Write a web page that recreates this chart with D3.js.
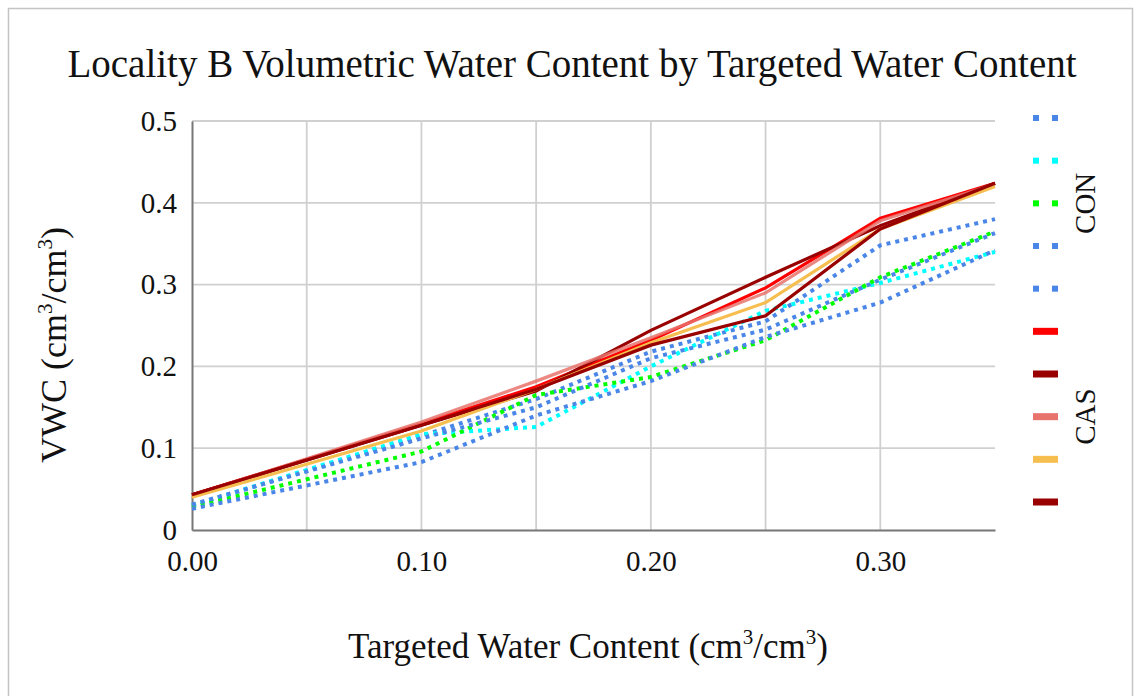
<!DOCTYPE html>
<html>
<head>
<meta charset="utf-8">
<script src="https://cdn.jsdelivr.net/npm/d3@7"></script>
<style>
  html, body { margin: 0; padding: 0; background: #fff; }
  svg { display: block; }
  text { font-family: "Liberation Serif", "DejaVu Serif", serif; fill: #111; }
</style>
</head>
<body>
<svg id="chart" width="1143" height="696"></svg>
<script>
// ---- data ----
const targeted = [0.00, 0.10, 0.15, 0.20, 0.25, 0.30, 0.35];

const seriesNames = ["CON 1", "CON 2", "CON 3", "CON 4", "CON 5", "CAS 1", "CAS 2", "CAS 3", "CAS 4", "CAS 5"];
const seriesGroups = ["CON", "CON", "CON", "CON", "CON", "CAS", "CAS", "CAS", "CAS", "CAS"];
const seriesColors = ["#4a86e8", "#00ffff", "#00ff00", "#4a86e8", "#4a86e8", "#ff0000", "#990000", "#e8736c", "#f6bd4f", "#990000"];

const con1 = [0.030, 0.115, 0.160, 0.218, 0.255, 0.348, 0.380];
const con2 = [0.030, 0.117, 0.126, 0.200, 0.268, 0.302, 0.340];
const con3 = [0.028, 0.096, 0.165, 0.187, 0.232, 0.309, 0.365];
const con4 = [0.031, 0.112, 0.150, 0.210, 0.245, 0.306, 0.363];
const con5 = [0.026, 0.083, 0.140, 0.182, 0.236, 0.278, 0.342];
const cas1 = [0.043, 0.130, 0.175, 0.232, 0.296, 0.381, 0.424];
const cas2 = [0.043, 0.128, 0.170, 0.244, 0.309, 0.372, 0.424];
const cas3 = [0.042, 0.132, 0.182, 0.235, 0.290, 0.378, 0.423];
const cas4 = [0.040, 0.121, 0.172, 0.229, 0.278, 0.368, 0.420];
const cas5 = [0.043, 0.128, 0.172, 0.226, 0.262, 0.368, 0.424];
const seriesValues = [con1, con2, con3, con4, con5, cas1, cas2, cas3, cas4, cas5];

const xTicks = [0.00, 0.10, 0.20, 0.30];
const xGrid = [0.05, 0.10, 0.15, 0.20, 0.25, 0.30];
const yTicks = [0, 0.1, 0.2, 0.3, 0.4, 0.5];

const titleText = "Locality B Volumetric Water Content by Targeted Water Content";

// ---- layout ----
const svg = d3.select("#chart");
const plot = { left: 192, right: 995, top: 121, bottom: 530 };

svg.append("rect").attr("x", 8.5).attr("y", 8.5).attr("width", 1124).attr("height", 700)
  .attr("fill", "#fff").attr("stroke", "#c4c4c4").attr("stroke-width", 1.5);

const x = d3.scaleLinear().domain([0, 0.35]).range([plot.left, plot.right]);
const y = d3.scaleLinear().domain([0, 0.5]).range([plot.bottom, plot.top]);

// grid
const grid = svg.append("g");
grid.selectAll("line.h").data(yTicks.filter(d => d > 0)).join("line")
  .attr("x1", plot.left).attr("x2", plot.right)
  .attr("y1", d => y(d)).attr("y2", d => y(d))
  .attr("stroke", "#d0d0d0").attr("stroke-width", 1.8);
grid.selectAll("line.v").data(xGrid).join("line")
  .attr("x1", d => x(d)).attr("x2", d => x(d))
  .attr("y1", plot.top).attr("y2", plot.bottom)
  .attr("stroke", "#d0d0d0").attr("stroke-width", 1.8);

// axes
const yAxis = svg.append("g").attr("transform", `translate(${plot.left},0)`)
  .call(d3.axisLeft(y).tickValues(yTicks).tickSize(0).tickPadding(15)
    .tickFormat(d => d === 0 ? "0" : d3.format(".1f")(d)));
yAxis.select(".domain").attr("stroke", "#777").attr("stroke-width", 2);
yAxis.selectAll("text").attr("font-size", 29).attr("fill", "#111")
  .style("font-family", '"Liberation Serif", serif');

const xAxis = svg.append("g").attr("transform", `translate(0,${plot.bottom})`)
  .call(d3.axisBottom(x).tickValues(xTicks).tickSize(0).tickPadding(20)
    .tickFormat(d3.format(".2f")));
xAxis.select(".domain").attr("stroke", "#777").attr("stroke-width", 2);
xAxis.selectAll("text").attr("font-size", 29).attr("fill", "#111")
  .style("font-family", '"Liberation Serif", serif');

// lines
const line = d3.line().x((d, i) => x(targeted[i])).y(d => y(d));
const lineG = svg.append("g");
seriesValues.forEach((vals, i) => {
  const isCon = seriesGroups[i] === "CON";
  lineG.append("path")
    .attr("d", line(vals))
    .attr("fill", "none")
    .attr("stroke", seriesColors[i])
    .attr("stroke-width", isCon ? 4 : 3.2)
    .attr("stroke-dasharray", isCon ? "4,5" : null)
    .attr("stroke-linejoin", "miter")
    .attr("opacity", i === 7 ? 0.85 : 1);
});

// legend
const legY = d3.scalePoint().domain(seriesNames).range([118, 502]);
const leg = svg.append("g");
seriesNames.forEach((n, i) => {
  const yy = legY(n);
  if (seriesGroups[i] === "CON") {
    leg.append("rect").attr("x", 1033).attr("y", yy - 3).attr("width", 6).attr("height", 6).attr("fill", seriesColors[i]);
    leg.append("rect").attr("x", 1052).attr("y", yy - 3).attr("width", 6).attr("height", 6).attr("fill", seriesColors[i]);
  } else {
    leg.append("rect").attr("x", 1033).attr("y", yy - 3.5).attr("width", 25).attr("height", 7).attr("fill", seriesColors[i]);
  }
});
const groupLabels = ["CON", "CAS"];
groupLabels.forEach(g => {
  const idx = seriesGroups.map((s, i) => s === g ? i : -1).filter(i => i >= 0);
  const cy = (legY(seriesNames[idx[0]]) + legY(seriesNames[idx[idx.length - 1]])) / 2;
  svg.append("text").attr("transform", `translate(1095,${cy}) rotate(-90)`)
    .attr("text-anchor", "middle").attr("font-size", 29).text(g);
});

// title
svg.append("text").attr("x", 572).attr("y", 77).attr("text-anchor", "middle")
  .attr("font-size", 39).text(titleText);

// axis titles
const xt = svg.append("text").attr("x", 588).attr("y", 658).attr("text-anchor", "middle").attr("font-size", 35);
xt.append("tspan").text("Targeted Water Content (cm");
xt.append("tspan").attr("font-size", 21).attr("dy", -14).text("3");
xt.append("tspan").attr("dy", 14).text("/cm");
xt.append("tspan").attr("font-size", 21).attr("dy", -14).text("3");
xt.append("tspan").attr("dy", 14).text(")");

const yt = svg.append("text").attr("transform", "translate(66,345) rotate(-90)").attr("text-anchor", "middle").attr("font-size", 36);
yt.append("tspan").text("VWC (cm");
yt.append("tspan").attr("font-size", 21).attr("dy", -14).text("3");
yt.append("tspan").attr("dy", 14).text("/cm");
yt.append("tspan").attr("font-size", 21).attr("dy", -14).text("3");
yt.append("tspan").attr("dy", 14).text(")");
</script>
</body>
</html>
